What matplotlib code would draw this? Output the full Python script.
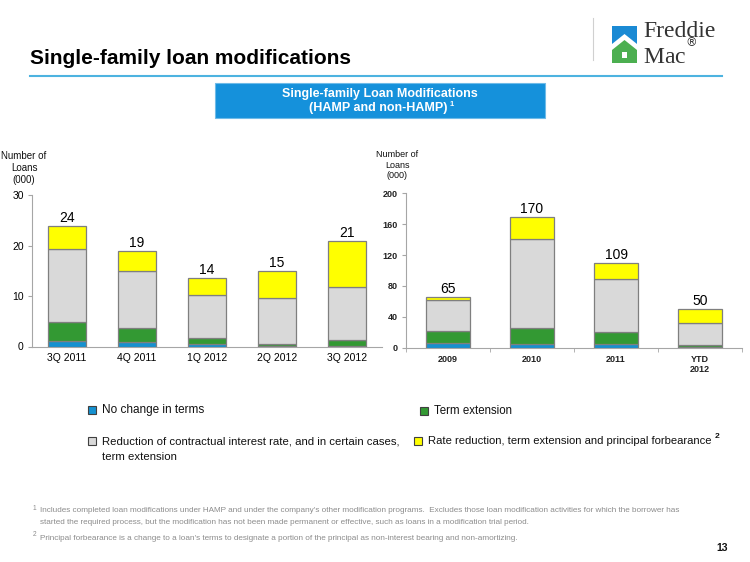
import matplotlib
matplotlib.use("Agg")
import matplotlib.pyplot as plt
import numpy as np
from matplotlib.patches import Polygon, Rectangle

plt.rcParams['font.family'] = ['Liberation Sans', 'DejaVu Sans']

# ---------------- data ----------------
quarters = ['3Q 2011', '4Q 2011', '1Q 2012', '2Q 2012', '3Q 2012']
q_no_change = [1.1, 0.9, 0.5, 0.1, 0.1]
q_term_ext = [3.8, 2.8, 1.1, 0.45, 1.2]
q_rate_red = [14.5, 11.3, 8.7, 9.1, 10.6]
q_forbear = [4.5, 4.0, 3.3, 5.4, 9.0]
q_totals = [24, 19, 14, 15, 21]

years = ['2009', '2010', '2011', 'YTD\n2012']
a_no_change = [6.0, 4.3, 4.3, 1.3]
a_term_ext = [15.1, 21.1, 16.3, 2.6]
a_rate_red = [41.3, 114.8, 68.9, 28.4]
a_forbear = [3.0, 29.7, 19.7, 17.6]
a_totals = [65, 170, 109, 50]

series_names = ['No change in terms', 'Term extension',
                'Reduction of contractual interest rate, and in certain cases,\nterm extension',
                'Rate reduction, term extension and principal forbearance']
colors = ['#1591d0', '#339933', '#d9d9d9', '#ffff00']
edge = '#7f7f7f'
axis_col = '#a6a6a6'

fig = plt.figure(figsize=(7.5, 5.62), dpi=100)

# overlay for decorations in pixel coordinates
ov = fig.add_axes([0, 0, 1, 1])
ov.set_xlim(0, 750)
ov.set_ylim(562, 0)
ov.axis('off')

# title and rule
ov.text(30, 58, 'Single-family loan modifications', fontsize=15, fontweight='bold',
        color='black', va='center', ha='left')
ov.plot([30, 722], [75.5, 75.5], color='#4db3e0', lw=1.5)

# logo
ov.plot([593, 593], [18, 60], color='#d0d0d0', lw=0.8)
ov.add_patch(Polygon([[612, 26], [637, 26], [637, 44], [624.5, 34], [612, 44]],
                     closed=True, color='#1a8ad4', lw=0))
ov.add_patch(Polygon([[612, 50], [624.5, 40], [637, 50], [637, 63], [612, 63]],
                     closed=True, color='#4caf50', lw=0))
ov.add_patch(Rectangle((622, 52), 5, 6, color='white', lw=0))
ov.text(643, 45, 'Freddie\nMac$^{^{\\circledR}}$', family=['Liberation Serif', 'DejaVu Serif'],
        fontsize=17, color='#333333', va='center', ha='left', linespacing=0.85)

# header box
ov.add_patch(Rectangle((215, 83), 330, 35, facecolor='#1591db', edgecolor='#6fbbe8', lw=0.8))
ov.text(380, 94, 'Single-family Loan Modifications', color='white', fontsize=9,
        fontweight='bold', ha='center', va='center')
ov.text(378, 107.5, '(HAMP and non-HAMP)', color='white', fontsize=9,
        fontweight='bold', ha='center', va='center')
ov.text(450, 104.5, '1', color='white', fontsize=5.5, fontweight='bold', ha='left', va='center')

# y-axis titles
ov.text(24, 168, 'Number of\nLoans\n(000)', fontsize=7, ha='center', va='center',
        linespacing=1.25, color='#111111')
ov.text(397, 165, 'Number of\nLoans\n(000)', fontsize=6.5, ha='center', va='center',
        linespacing=1.25, color='#111111')


def stacked(ax, cats, layers, totals, width, ymax, yticks, tick_fs, lbl_fs):
    x = np.arange(len(cats))
    bottom = np.zeros(len(cats))
    for vals, c in zip(layers, colors):
        ax.bar(x, vals, width=width, bottom=bottom, color=c, edgecolor=edge,
               linewidth=0.9, zorder=3)
        bottom = bottom + np.array(vals)
    for xi, top, t in zip(x, bottom, totals):
        ax.text(xi, top + ymax * 0.006, str(t), ha='center', va='bottom',
                fontsize=lbl_fs, color='black')
    ax.set_xlim(-0.5, len(cats) - 0.5)
    ax.set_ylim(0, ymax)
    ax.set_yticks(yticks)
    ax.set_xticks(x)
    ax.set_xticklabels(cats, fontsize=tick_fs)
    ax.tick_params(axis='y', labelsize=tick_fs, length=3, color=axis_col, pad=3)
    ax.tick_params(axis='x', length=0, pad=5)
    for s in ['top', 'right']:
        ax.spines[s].set_visible(False)
    for s in ['left', 'bottom']:
        ax.spines[s].set_color(axis_col)
        ax.spines[s].set_linewidth(0.8)
    ax.set_facecolor('none')


ax1 = fig.add_axes([32 / 750, 1 - 346.5 / 562, 350 / 750, (346.5 - 195.3) / 562])
stacked(ax1, quarters, [q_no_change, q_term_ext, q_rate_red, q_forbear], q_totals,
        0.53, 30, [0, 10, 20, 30], 7.5, 10)

ax2 = fig.add_axes([406 / 750, 1 - 347.7 / 562, 336 / 750, (347.7 - 193.3) / 562])
stacked(ax2, years, [a_no_change, a_term_ext, a_rate_red, a_forbear], a_totals,
        0.52, 200, [0, 40, 80, 120, 160, 200], 6.5, 10)
ax2.set_xticks(np.arange(len(years) + 1) - 0.5, minor=True)
ax2.tick_params(axis='x', which='minor', length=3, color=axis_col)
for lbl in ax2.get_xticklabels() + ax2.get_yticklabels():
    lbl.set_fontweight('bold')
    lbl.set_color('#222222')

# legend
leg_sq = [(92, 410), (424, 411), (92, 441), (418, 441)]
for (lx, ly), c in zip(leg_sq, colors):
    ov.add_patch(Rectangle((lx - 4, ly - 4), 8, 8, facecolor=c, edgecolor='#404040', lw=0.8))
ov.text(102, 410, series_names[0], fontsize=8.5, ha='left', va='center', color='#111111')
ov.text(434, 411, series_names[1], fontsize=8.3, ha='left', va='center', color='#111111')
ov.text(102, 441, 'Reduction of contractual interest rate, and in certain cases,', fontsize=8.2,
        ha='left', va='center', color='#111111')
ov.text(102, 457, 'term extension', fontsize=8.2, ha='left', va='center', color='#111111')
ov.text(428, 441, series_names[3], fontsize=8.1, ha='left', va='center', color='#111111')
ov.text(715, 436, '2', fontsize=6, fontweight='bold', ha='left', va='center', color='#111111')

# footnotes
fn_col = '#8c8c8c'
ov.text(33, 508, '1', fontsize=4.8, color=fn_col, ha='left', va='center')
ov.text(40, 511, "Includes completed loan modifications under HAMP and under the company's other modification programs.  Excludes those loan modification activities for which the borrower has",
        fontsize=5.9, color=fn_col, ha='left', va='center')
ov.text(40, 522, "started the required process, but the modification has not been made permanent or effective, such as loans in a modification trial period.",
        fontsize=5.9, color=fn_col, ha='left', va='center')
ov.text(33, 535, '2', fontsize=4.8, color=fn_col, ha='left', va='center')
ov.text(40, 538, "Principal forbearance is a change to a loan's terms to designate a portion of the principal as non-interest bearing and non-amortizing.",
        fontsize=5.9, color=fn_col, ha='left', va='center')
ov.text(728, 548, '13', fontsize=7.5, fontweight='bold', ha='right', va='center', color='#111111')

fig.savefig('out.png', dpi=100)
